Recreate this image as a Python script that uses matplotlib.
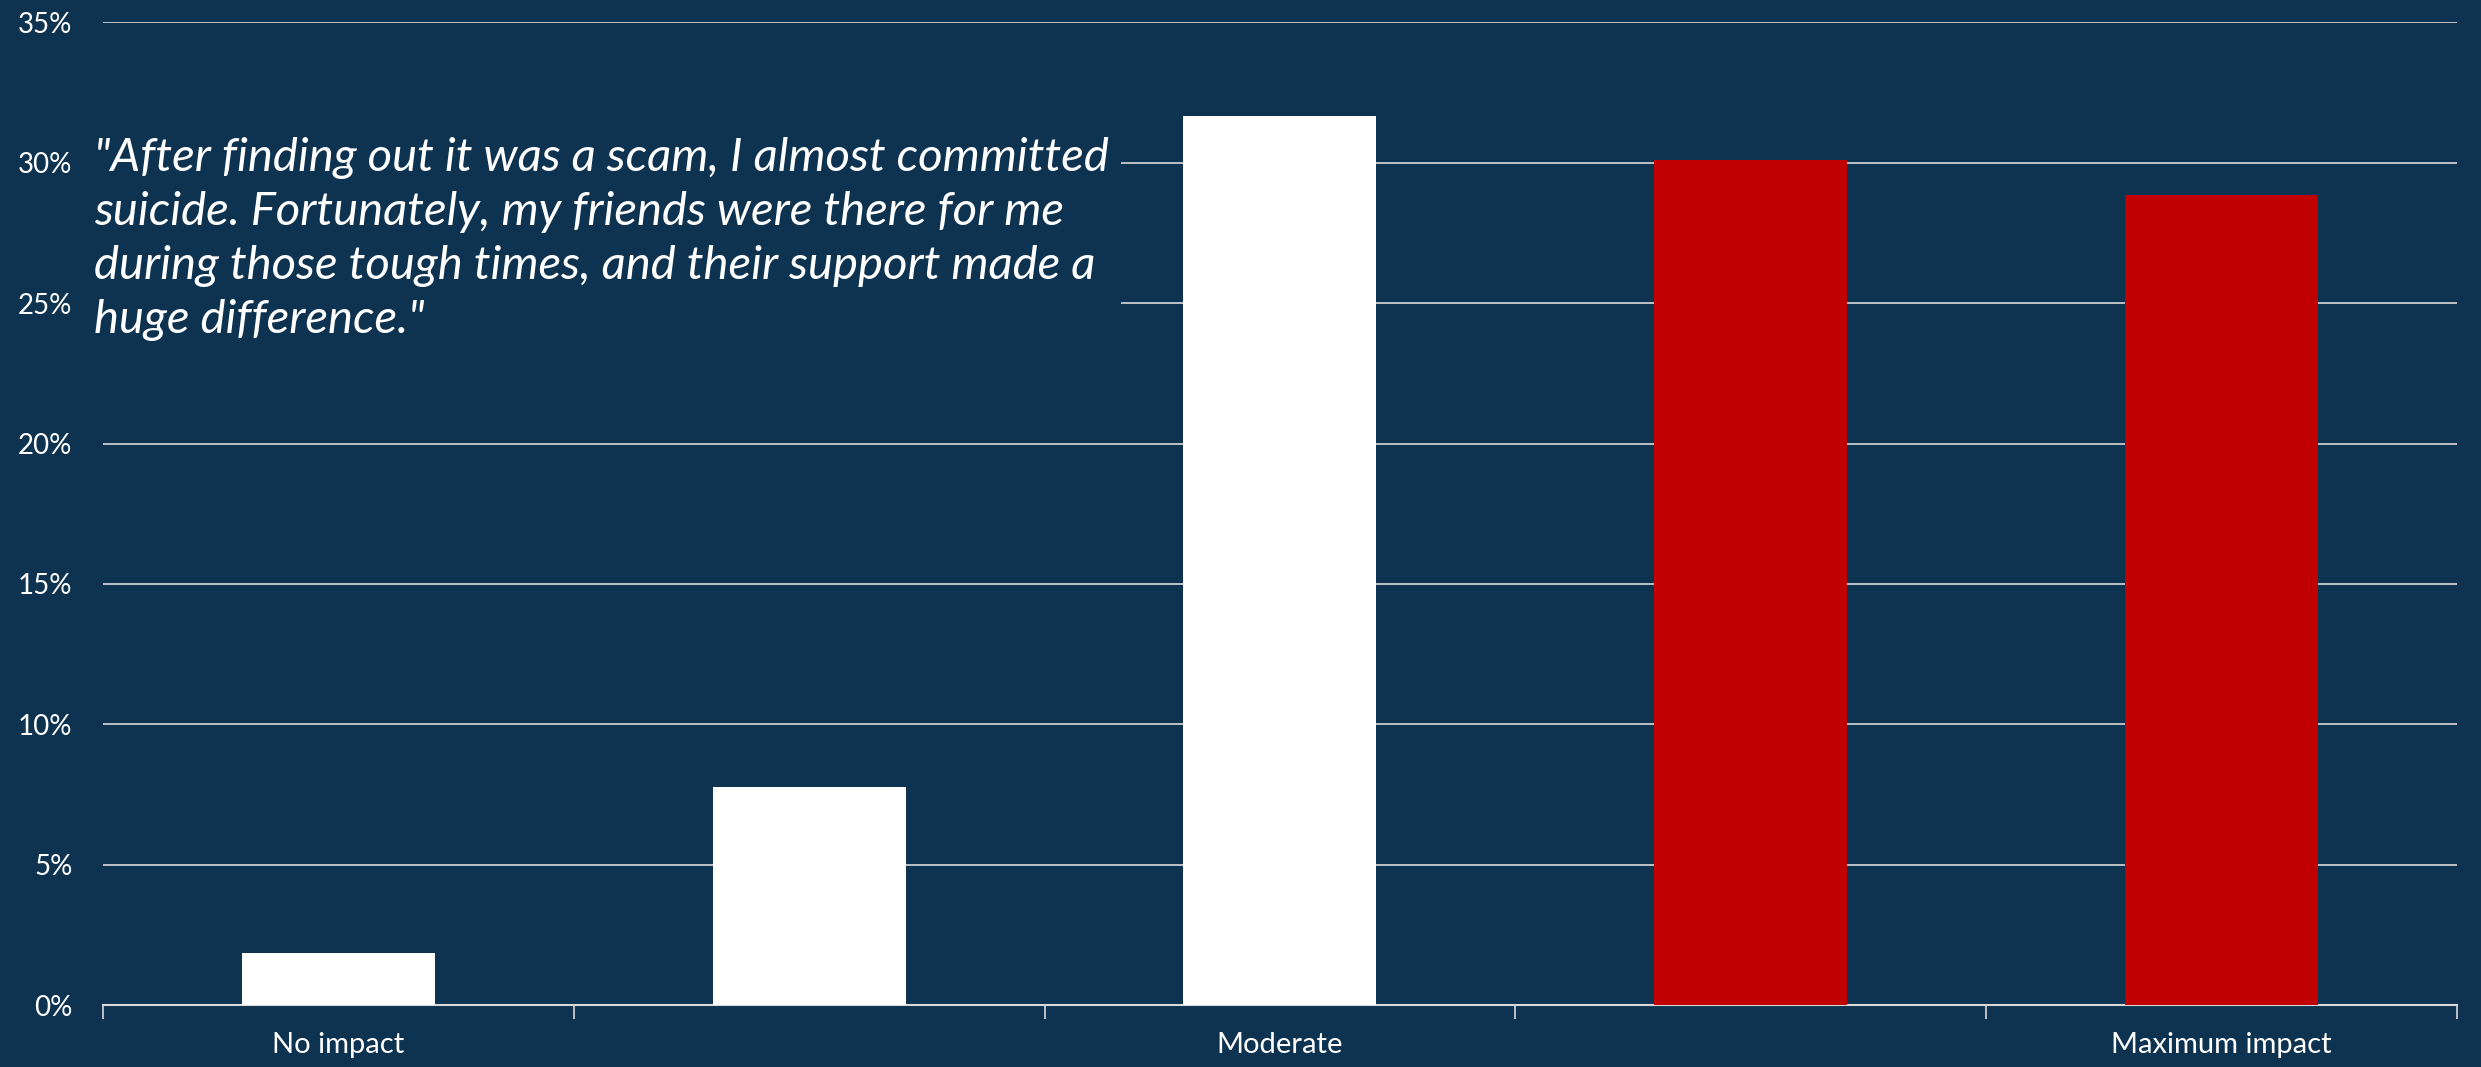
import numpy as np
import matplotlib.pyplot as plt
from matplotlib.ticker import FuncFormatter

# impact scale, 1 (none) to 5 (maximum)
categories = ["No impact", "", "Moderate", "", "Maximum impact"]
shares = [1.86, 7.78, 31.68, 30.1, 28.86]   # percent of respondents
bar_colors = ["white", "white", "white", "#C00000", "#C00000"]
quote = ('"After finding out it was a scam, I almost committed\n'
         'suicide. Fortunately, my friends were there for me\n'
         'during those tough times, and their support made a\n'
         'huge difference."')

bg = "#0E3350"
grid_col = "#D9D9D9"

plt.rcParams['font.family'] = ['Lato', 'DejaVu Sans']

fig = plt.figure(figsize=(24.81, 10.67), dpi=100, facecolor=bg)
ax = fig.add_axes([0.0415, 0.058, 0.9488, 0.921])
ax.set_facecolor(bg)

x = np.arange(len(shares))
ax.bar(x, shares, width=0.41, color=bar_colors, zorder=3)

ax.set_xlim(-0.5, len(shares) - 0.5)
ax.set_ylim(0, 35)
ax.set_yticks(np.arange(0, 36, 5))
ax.yaxis.set_major_formatter(FuncFormatter(lambda v, p: f"{v:.0f}%"))
ax.grid(axis="y", color=grid_col, lw=1.2, zorder=1)
ax.tick_params(axis="y", length=0, colors="white", labelsize=20, pad=22)

# ticks sit on category boundaries, labels at centres
ax.set_xticks(np.arange(-0.5, len(shares), 1.0))
ax.set_xticklabels([])
ax.set_xticks(x, minor=True)
ax.set_xticklabels(categories, minor=True)
ax.tick_params(axis="x", which="major", length=10, width=1.2, color=grid_col)
ax.tick_params(axis="x", which="minor", length=0, colors="white",
               labelsize=21, pad=19)

for s in ["left", "right", "top"]:
    ax.spines[s].set_visible(False)
ax.spines["bottom"].set_color(grid_col)
ax.spines["bottom"].set_linewidth(1.5)

# quote box hides the gridlines behind it
fig.text(0.038, 0.872, quote, color="white", fontsize=34, style="italic",
         va="top", ha="left", linespacing=1.36,
         bbox=dict(facecolor=bg, edgecolor="none", pad=9))

fig.savefig("out.png", facecolor=bg)
